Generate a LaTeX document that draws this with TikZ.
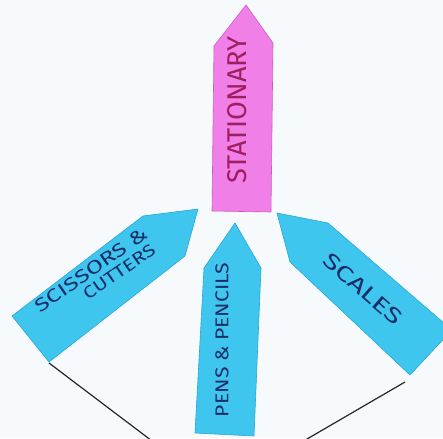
\documentclass[tikz,border=0pt]{standalone}
\usepackage{fontspec}
\setsansfont{Fira Sans}
\newcommand{\hwtext}[3]{\resizebox{#1pt}{#2pt}{\sffamily #3}}
\definecolor{pinkfill}{RGB}{240,128,232}
\definecolor{pinkline}{RGB}{205,90,195}
\definecolor{pinktext}{RGB}{160,30,95}
\definecolor{bluefill}{RGB}{62,198,238}
\definecolor{blueline}{RGB}{40,168,215}
\definecolor{bluetext}{RGB}{25,45,105}
\definecolor{paper}{RGB}{246,250,252}
\tikzset{
  pinktag/.style={fill=pinkfill, draw=pinkline, line width=0.6pt, line join=round},
  bluetag/.style={fill=bluefill, draw=blueline, line width=0.6pt, line join=round},
  tagtext/.style={inner sep=0pt, outer sep=0pt},
  connector/.style={draw=black!85, line width=1.2pt}
}
\begin{document}
\begin{tikzpicture}[x=1pt,y=-1pt]
\useasboundingbox (0,0) rectangle (443,438);
\fill[paper] (0,0) rectangle (443,438);
\clip (0,0) rectangle (443,438);

% tags
\draw[pinktag] (246,5) -- (273,43) -- (271,212) -- (212,211) -- (214,46) -- cycle;
\draw[bluetag] (12,316) -- (143,216) -- (198,209) -- (185,256) -- (49,362) -- cycle;
\draw[bluetag] (235,223) -- (261,268) -- (254,436) -- (195,433) -- (204,268) -- cycle;
\draw[bluetag] (277,213) -- (328,223) -- (452,330) -- (410,375) -- (290,262) -- cycle;

% texts
\node[tagtext, rotate=90, text=pinktext] (stat) at (237,110) {\hwtext{147}{19}{STATIONARY}};
\node[tagtext, rotate=35, text=bluetext, align=left, font=\fontsize{12}{17}\selectfont] (sci) at (96,277)
  {\hwtext{132}{13}{SCISSORS \&}\\\hspace*{46pt}\hwtext{84}{12}{CUTTERS}};
\node[tagtext, rotate=90, text=bluetext] (pens) at (222,340) {\hwtext{154}{13}{PENS \& PENCILS}};
\node[tagtext, rotate=-41, text=bluetext] (scal) at (363,289) {\hwtext{98}{15}{SCALES}};

% connectors
\coordinate (scicorner) at (49,363);
\coordinate (leftend) at (160,447);
\coordinate (scalcorner) at (405,382);
\coordinate (rightend) at (295,446);
\draw[connector] (scicorner) -- (leftend);
\draw[connector] (scalcorner) -- (rightend);
\end{tikzpicture}
\end{document}
